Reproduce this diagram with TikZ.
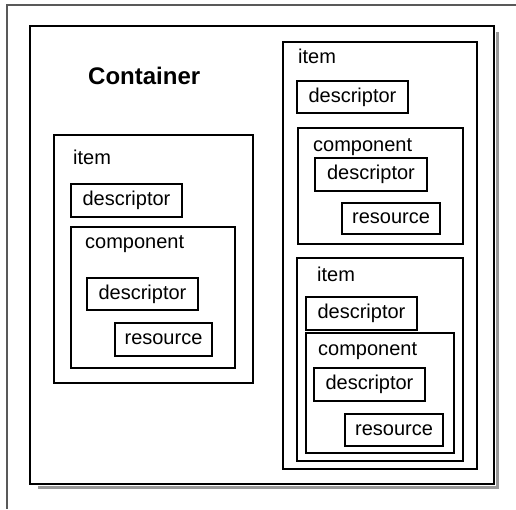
\documentclass[tikz,border=0pt]{standalone}
\usepackage{fontspec}
\setmainfont{Liberation Sans}
\begin{document}
\begin{tikzpicture}[x=1pt,y=-1pt,
  box/.style={draw=black, line width=1.4pt, inner sep=0pt, outer sep=0pt,
    font=\fontsize{20}{24}\selectfont},
  lbl/.style={anchor=base west, inner sep=0pt, font=\fontsize{20}{24}\selectfont},
  frameline/.style={draw=black!65, line width=1.5pt},
  shadow/.style={draw=black!40, line width=3pt}]
\useasboundingbox (0,0) rectangle (516,509);

% page frame (top and left edges only)
\coordinate (fTL) at (7,5);
\coordinate (fTR) at (516,5);
\coordinate (fBL) at (7,509);
\draw[frameline] (fTR) -- (fTL) -- (fBL);

% shadow of the container
\coordinate (sA) at (38,487.5);
\coordinate (sB) at (497.5,487.5);
\coordinate (sC) at (497.5,32);
\draw[shadow] (sA) -- (sB) -- (sC);

% container
\node[box, line width=1.8pt, fill=white, minimum width=464pt, minimum height=458pt] (cont) at (262,255) {};
\node[anchor=base west, inner sep=0pt, font=\fontsize{24}{28}\selectfont\bfseries] (contlbl) at (88,84) {Container};

% left item
\node[box, minimum width=199pt, minimum height=248pt] (itemL) at (153.5,259) {};
\node[lbl] (itemLlbl) at (73,164) {item};
\node[box, minimum width=111pt, minimum height=33pt] (descL) at (126.5,200.5) {descriptor};
\node[box, minimum width=164pt, minimum height=141pt] (compL) at (153,297.5) {};
\node[lbl] (compLlbl) at (85,248) {component};
\node[box, minimum width=111pt, minimum height=32pt] (cdescL) at (142.5,294) {descriptor};
\node[box, minimum width=97pt, minimum height=33pt] (resL) at (163.5,339.5) {resource};

% right outer item
\node[box, minimum width=194pt, minimum height=427pt] (itemR) at (380,255.5) {};
\node[lbl] (itemRlbl) at (298,63) {item};
\node[box, minimum width=111pt, minimum height=32pt] (descR) at (352.5,97) {descriptor};
\node[box, minimum width=165pt, minimum height=116pt] (compR) at (380.5,186) {};
\node[lbl] (compRlbl) at (313,151) {component};
\node[box, minimum width=112pt, minimum height=33pt] (cdescR) at (371,174.5) {descriptor};
\node[box, minimum width=98pt, minimum height=31pt] (resR) at (391,218.5) {resource};

% nested item inside the right item
\node[box, minimum width=166pt, minimum height=203pt] (itemN) at (380,359.5) {};
\node[lbl] (itemNlbl) at (317,281) {item};
\node[box, minimum width=111pt, minimum height=33pt] (descN) at (361.5,313.5) {descriptor};
\node[box, minimum width=148pt, minimum height=120pt] (compN) at (380,393) {};
\node[lbl] (compNlbl) at (318,355) {component};
\node[box, minimum width=111pt, minimum height=33pt] (cdescN) at (369.5,384.5) {descriptor};
\node[box, minimum width=98pt, minimum height=32pt] (resN) at (394,430) {resource};
\end{tikzpicture}
\end{document}
